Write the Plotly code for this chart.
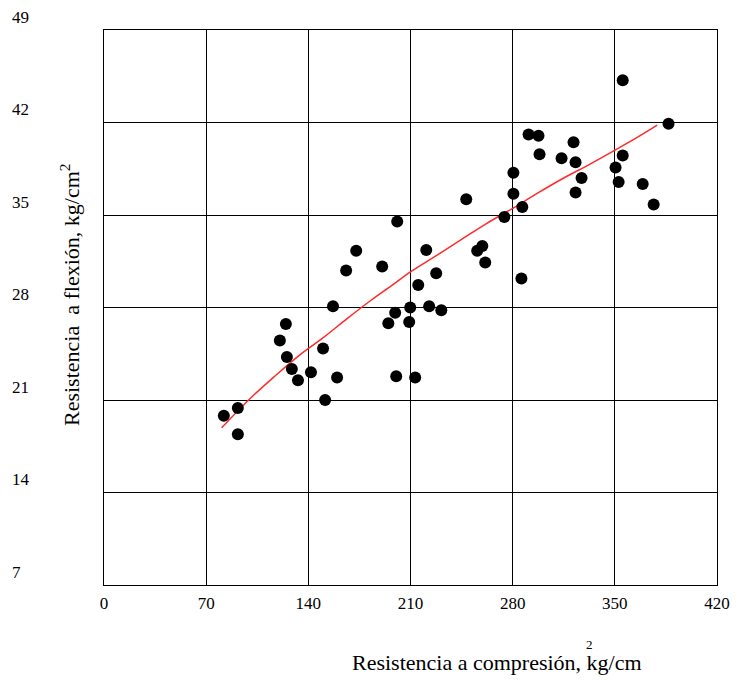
import plotly.graph_objects as go

# Data
compresion = [82.1, 91.7, 91.7, 120.5, 124.6, 125.3, 128.7, 132.9, 141.8, 150.1,
              151.5, 156.9, 159.7, 165.9, 172.8, 190.6, 194.8, 199.5, 200.9, 200.2,
              209.1, 209.8, 213.2, 215.3, 220.8, 222.8, 227.6, 231.1, 248.2, 255.7,
              259.2, 261.2, 274.3, 280.5, 280.5, 286.0, 286.6, 290.9, 297.7, 298.4,
              313.5, 321.7, 323.1, 323.1, 327.2, 350.5, 352.6, 355.4, 355.4, 369.1,
              376.6, 386.8]
flexion = [19.8, 20.4, 18.4, 25.5, 26.75, 24.25, 23.35, 22.5, 23.1, 24.9,
           21.0, 28.1, 22.7, 30.8, 32.3, 31.1, 26.8, 27.6, 34.5, 22.8,
           26.9, 28.0, 22.7, 29.7, 32.35, 28.1, 30.6, 27.8, 36.2, 32.3,
           32.65, 31.4, 34.85, 38.2, 36.6, 30.2, 35.6, 41.1, 41.0, 39.6,
           39.3, 40.5, 39.0, 36.7, 37.8, 38.6, 37.5, 39.5, 45.2, 37.35,
           35.8, 41.9]

# Fitted curve
curva_x = [80.6, 100, 117, 134, 150, 167, 183, 197, 210, 228, 245, 262, 280, 297, 315, 333, 350, 365, 379]
curva_y = [18.9, 21.1, 22.8, 24.4, 25.7, 27.2, 28.55, 29.65, 30.7, 31.95, 33.15, 34.35, 35.5, 36.65, 37.8, 38.85, 39.9, 40.85, 41.8]

x_ticks = [0, 70, 140, 210, 280, 350, 420]
y_grid = [14, 21, 28, 35, 42]
y_labels = [7, 14, 21, 28, 35, 42, 49]

FONT = "Liberation Serif, Times New Roman, serif"

fig = go.Figure()
fig.add_trace(go.Scatter(x=curva_x, y=curva_y, mode="lines", line_shape="spline",
                         line=dict(color="#ff2a2a", width=1.5), hoverinfo="skip"))
fig.add_trace(go.Scatter(x=compresion, y=flexion, mode="markers",
                         marker=dict(color="black", size=12, line=dict(width=0))))

annotations = []
for v in y_labels:
    annotations.append(dict(x=-0.1533, xref="paper", y=v, yref="y", yshift=13,
                            text=str(v), showarrow=False, xanchor="left", yanchor="middle",
                            font=dict(family=FONT, size=17, color="black")))
annotations.append(dict(x=-0.0555, xref="paper", y=0.5225, yref="paper",
                        text="Resistencia\u00a0 a flexión, kg/cm<sup>2</sup>", textangle=-90,
                        showarrow=False, xanchor="center", yanchor="middle",
                        font=dict(family=FONT, size=22, color="black")))
annotations.append(dict(x=0.6406, xref="paper", y=-0.1405, yref="paper",
                        text="Resistencia a compresión, kg/cm", showarrow=False,
                        xanchor="center", yanchor="middle",
                        font=dict(family=FONT, size=22, color="black")))
annotations.append(dict(x=0.7928, xref="paper", y=-0.108, yref="paper",
                        text="2", showarrow=False, xanchor="center", yanchor="middle",
                        font=dict(family=FONT, size=13, color="black")))

fig.update_layout(
    width=736, height=681,
    margin=dict(l=104, r=19, t=30, b=96),
    plot_bgcolor="white", paper_bgcolor="white",
    showlegend=False,
    font=dict(family=FONT, size=17, color="black"),
    annotations=annotations,
    xaxis=dict(range=[0, 420], tickvals=x_ticks, ticktext=[str(t) for t in x_ticks],
               showgrid=True, gridcolor="black", gridwidth=1,
               showline=True, linecolor="black", linewidth=1, mirror=True,
               ticks="", zeroline=False, ticklabelstandoff=3, automargin=False,
               tickfont=dict(family=FONT, size=17, color="black")),
    yaxis=dict(range=[7, 49], tickvals=y_grid, showticklabels=False,
               showgrid=True, gridcolor="black", gridwidth=1,
               showline=True, linecolor="black", linewidth=1, mirror=True,
               ticks="", zeroline=False, automargin=False),
)

fig.write_html("out.html")
